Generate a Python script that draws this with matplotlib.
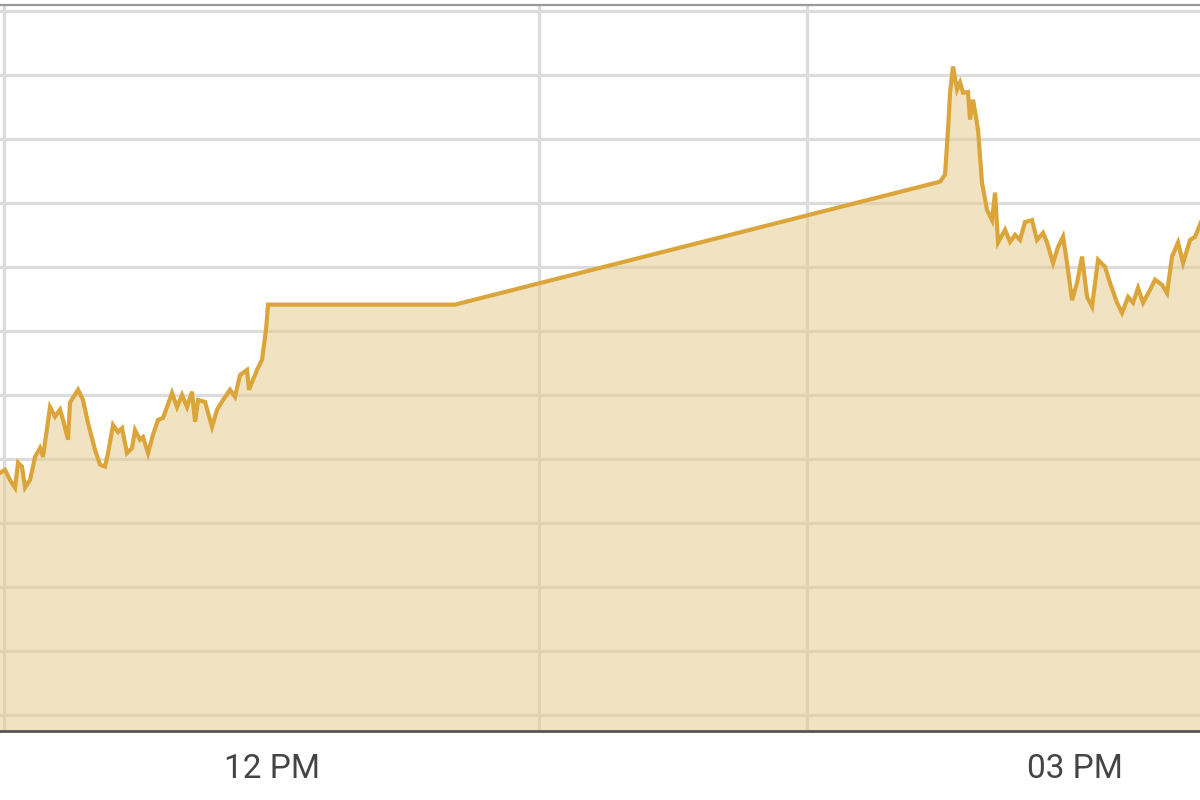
import matplotlib
matplotlib.use("Agg")
import matplotlib.pyplot as plt
import numpy as np

# Time in minutes after 11:00, price in arbitrary units (grid step = 1)
minutes = [
    -0.90, 0.22, 1.34, 2.47, 3.14, 4.03, 4.71, 5.83, 6.95, 8.07, 8.74, 10.31,
    11.43, 12.55, 13.23, 14.35, 14.79, 16.59, 17.71, 18.83, 20.40, 21.52,
    22.64, 23.31, 24.43, 25.55, 26.45, 27.57, 28.69, 29.36, 30.49, 31.16,
    32.28, 33.40, 34.52, 35.64, 36.54, 37.66, 38.78, 39.90, 41.02, 42.14,
    42.82, 43.49, 45.06, 46.62, 47.75, 49.09, 50.66, 51.78, 52.90, 54.47,
    54.91, 56.71, 57.83, 58.73, 59.18, 101.09, 209.81, 210.93, 211.60,
    212.05, 212.72, 213.62, 214.29, 214.97, 216.09, 216.53, 217.21, 218.33,
    219.22, 220.34, 221.46, 222.14, 222.81, 224.38, 225.50, 226.62, 227.74,
    228.86, 230.43, 231.55, 232.90, 233.79, 235.14, 236.26, 237.38, 238.28,
    239.40, 240.52, 241.64, 242.76, 243.88, 245.23, 246.79, 247.91, 249.48,
    250.60, 251.95, 253.07, 254.19, 255.31, 256.88, 258.00, 259.57, 260.69,
    261.81, 263.16, 264.28, 265.85, 266.97, 268.31,
]
price = [
    3.78, 3.83, 3.67, 3.55, 3.94, 3.88, 3.55, 3.67, 4.03, 4.17, 4.03, 4.81,
    4.66, 4.77, 4.61, 4.30, 4.88, 5.08, 4.92, 4.56, 4.14, 3.91,
    3.88, 4.09, 4.53, 4.42, 4.48, 4.09, 4.17, 4.45, 4.30, 4.34,
    4.09, 4.38, 4.61, 4.64, 4.81, 5.03, 4.81, 5.00, 4.81, 5.05,
    4.58, 4.92, 4.89, 4.50, 4.77, 4.92, 5.08, 4.97, 5.31, 5.39,
    5.08, 5.39, 5.55, 6.02, 6.41, 6.41, 8.33, 8.44, 9.14,
    9.72, 10.13, 9.77, 9.88, 9.72, 9.73, 9.30, 9.61, 9.14,
    8.31, 7.89, 7.73, 8.16, 7.38, 7.58, 7.39, 7.50, 7.42,
    7.70, 7.73, 7.42, 7.53, 7.38, 7.06, 7.31, 7.47, 7.06,
    6.48, 6.75, 7.16, 6.53, 6.38, 7.11, 7.00, 6.75, 6.44,
    6.28, 6.53, 6.44, 6.67, 6.44, 6.64, 6.80, 6.72, 6.59,
    7.16, 7.38, 7.06, 7.42, 7.47, 7.70,
]
tick_hours = [12, 15]
tick_labels = ["12 PM", "03 PM"]

hours = 11 + np.array(minutes) / 60.0
vals = np.array(price)

fig = plt.figure(figsize=(12, 8), dpi=100)
ax = fig.add_axes([0.0, 0.08625, 1.0, 0.9075])

x_lo, x_hi = 10.985, 15.468
y_lo, y_hi = -0.25, 11.09
ax.set_xlim(x_lo, x_hi)
ax.set_ylim(y_lo, y_hi)

# grid
ax.set_axisbelow(True)
ax.set_xticks(np.arange(11, 16, 1), minor=True)
ax.set_yticks(np.arange(0, 12, 1))
ax.grid(True, which="minor", axis="x", color="#dcdcdc", linewidth=2.3, zorder=0)
ax.grid(True, which="major", axis="y", color="#dcdcdc", linewidth=2.3, zorder=0)
ax.set_xticks(tick_hours)
ax.set_xticklabels(tick_labels)
ax.tick_params(axis="x", which="both", length=0, pad=16, labelsize=24,
               labelcolor="#444444")
ax.tick_params(axis="y", length=0, labelleft=False)
for lbl in ax.get_xticklabels():
    lbl.set_fontfamily("Roboto")

ax.fill_between(hours, vals, y_lo, color="#e6cc8e", alpha=0.55, linewidth=0, zorder=2)
ax.plot(hours, vals, color="#dba53a", linewidth=3.0, zorder=3,
        solid_joinstyle="miter")

for s in ["left", "right"]:
    ax.spines[s].set_visible(False)
ax.spines["top"].set_color("#9a9a9a")
ax.spines["top"].set_linewidth(1.6)
ax.spines["bottom"].set_color("#555555")
ax.spines["bottom"].set_linewidth(2.0)

fig.savefig("out.png", dpi=100)
